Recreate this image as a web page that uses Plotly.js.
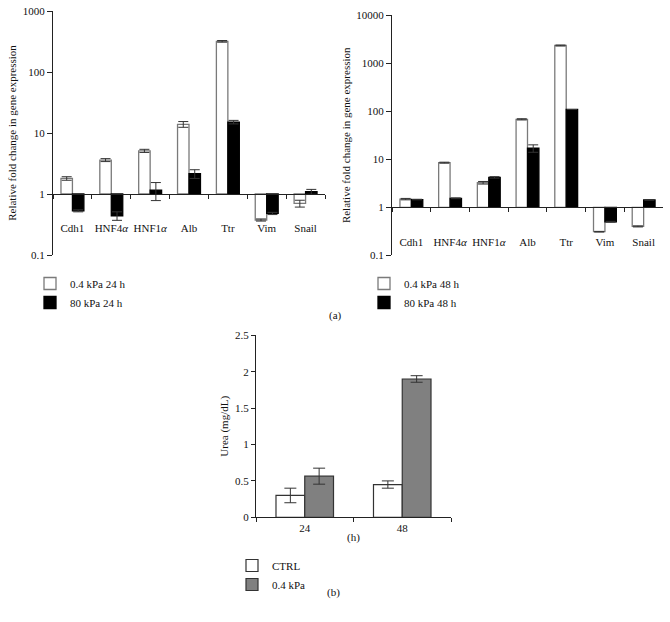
<!DOCTYPE html>
<html>
<head>
<meta charset="utf-8">
<script src="https://cdn.plot.ly/plotly-3.0.1.min.js"></script>
<style>html,body{margin:0;padding:0;background:#fff;}#chart{width:670px;height:622px;}</style>
</head>
<body>
<div id="chart"></div>
<script>
// ---- data ----
const genes = ["Cdh1", "HNF4<i>α</i>", "HNF1<i>α</i>", "Alb", "Ttr", "Vim", "Snail"];

const soft24 = [1.8, 3.6, 5.1, 13.9, 318, 0.375, 0.70];
const soft24Err = [0.12, 0.2, 0.3, 1.5, 10, 0.015, 0.09];
const stiff24 = [0.53, 0.44, 1.16, 2.15, 15.1, 0.48, 1.09];
const stiff24Err = [0.02, 0.07, 0.38, 0.35, 1.0, 0.02, 0.1];

const soft48 = [1.48, 8.5, 3.25, 68, 2350, 0.31, 0.40];
const soft48Err = [0.05, 0.2, 0.2, 2, 50, 0.005, 0.01];
const stiff48 = [1.45, 1.54, 4.2, 17, 109, 0.50, 1.42];
const stiff48Err = [0.02, 0.03, 0.15, 3, 0, 0.01, 0.02];

const hours = ["24", "48"];
const ureaCtrl = [0.30, 0.45];
const ureaCtrlErr = [0.10, 0.05];
const ureaSoft = [0.565, 1.90];
const ureaSoftErr = [0.11, 0.045];

const foldTicks = [0.1, 1, 10, 100, 1000, 10000];
const foldTickText = ["0.1", "1", "10", "100", "1000", "10000"];
const ureaTicks = [0, 0.5, 1, 1.5, 2, 2.5];
const ureaTickText = ["0", "0.5", "1", "1.5", "2", "2.5"];

// ---- helpers ----
const FONT = "'Liberation Serif'";
function foldBar(name, vals, errs, xa, ya, fill, line, legend) {
  return {
    type: "bar", name: name, x: genes,
    base: vals.map(() => 1),
    y: vals.map(v => v - 1),
    xaxis: xa, yaxis: ya, legend: legend,
    marker: {color: fill, line: {color: line, width: 1.3}},
    error_y: {type: "data", array: errs, visible: true, color: "#333", thickness: 1, width: 5},
    hoverinfo: "skip"
  };
}

const data = [
  foldBar("0.4 kPa 24 h", soft24, soft24Err, "x", "y", "#ffffff", "#7a7a7a", "legend"),
  foldBar("80 kPa 24 h", stiff24, stiff24Err, "x", "y", "#000000", "#000000", "legend"),
  foldBar("0.4 kPa 48 h", soft48, soft48Err, "x2", "y2", "#ffffff", "#7a7a7a", "legend2"),
  foldBar("80 kPa 48 h", stiff48, stiff48Err, "x2", "y2", "#000000", "#000000", "legend2"),
  {type: "bar", name: "CTRL", x: hours, y: ureaCtrl, xaxis: "x3", yaxis: "y3", legend: "legend3",
   marker: {color: "#ffffff", line: {color: "#333", width: 1.2}},
   error_y: {type: "data", array: ureaCtrlErr, visible: true, color: "#333", thickness: 1, width: 6}},
  {type: "bar", name: "0.4 kPa", x: hours, y: ureaSoft, xaxis: "x3", yaxis: "y3", legend: "legend3",
   marker: {color: "#808080", line: {color: "#333", width: 1.2}},
   error_y: {type: "data", array: ureaSoftErr, visible: true, color: "#333", thickness: 1, width: 6}}
];

const W = 670, H = 622;
const px = v => v / W;
const py = v => 1 - v / H;

const xCat = {
  type: "category", showline: true, linecolor: "#222", linewidth: 1,
  ticks: "outside", ticklen: 4, tickcolor: "#222", tickson: "boundaries",
  showgrid: false, zeroline: false, tickfont: {size: 11, color: "#111"},
  tickangle: 0, fixedrange: true
};
const yLog = {
  type: "log", showline: true, linecolor: "#222", linewidth: 1,
  ticks: "outside", ticklen: 5, tickcolor: "#222", showgrid: false, zeroline: false,
  tickmode: "array", tickvals: foldTicks, ticktext: foldTickText,
  tickfont: {size: 11, color: "#111"}, fixedrange: true
};

const layout = {
  width: W, height: H,
  margin: {l: 0, r: 0, t: 0, b: 0},
  paper_bgcolor: "#fff", plot_bgcolor: "rgba(0,0,0,0)",
  font: {family: FONT, size: 11, color: "#111"},
  barmode: "group", bargap: 0.41, bargroupgap: 0,
  xaxis: Object.assign({}, xCat, {domain: [px(53), px(325)], anchor: "free", position: py(194), ticklabelstandoff: 24}),
  yaxis: Object.assign({}, yLog, {domain: [py(255), py(11)], range: [-1, 3], anchor: "x",
    title: {text: "Relative fold change in gene expression", font: {size: 11}, standoff: 3}}),
  xaxis2: Object.assign({}, xCat, {domain: [px(392), px(663)], anchor: "free", position: py(207.3), ticklabelstandoff: 24}),
  yaxis2: Object.assign({}, yLog, {domain: [py(255.3), py(15.3)], range: [-1, 4], anchor: "x2",
    title: {text: "Relative fold change in gene expression", font: {size: 11}, standoff: 3}}),
  xaxis3: Object.assign({}, xCat, {domain: [px(256), px(451)], anchor: "y3"}),
  yaxis3: {domain: [py(517.3), py(335.3)], range: [0, 2.5], anchor: "x3",
    showline: true, linecolor: "#222", linewidth: 1, ticks: "outside", ticklen: 4, tickcolor: "#222",
    showgrid: false, zeroline: false, tickmode: "array", tickvals: ureaTicks, ticktext: ureaTickText,
    tickfont: {size: 11, color: "#111"}, fixedrange: true,
    title: {text: "Urea (mg/dL)", font: {size: 11}, standoff: 4}},
  legend: {x: px(30), y: py(269), xanchor: "left", yanchor: "top", bgcolor: "rgba(0,0,0,0)",
    font: {size: 11}, traceorder: "normal", itemclick: false},
  legend2: {x: px(364), y: py(269), xanchor: "left", yanchor: "top", bgcolor: "rgba(0,0,0,0)",
    font: {size: 11}, traceorder: "normal", itemclick: false},
  legend3: {x: px(232), y: py(551), xanchor: "left", yanchor: "top", bgcolor: "rgba(0,0,0,0)",
    font: {size: 11}, traceorder: "normal", itemclick: false},
  annotations: [
    {text: "(a)", x: px(335), y: py(315), xref: "paper", yref: "paper", showarrow: false, font: {size: 11}},
    {text: "(h)", x: px(353), y: py(546), xref: "paper", yref: "paper", showarrow: false, font: {size: 11}},
    {text: "(b)", x: px(333), y: py(601), xref: "paper", yref: "paper", showarrow: false, font: {size: 11}}
  ]
};

Plotly.newPlot("chart", data, layout, {displayModeBar: false, staticPlot: true});
</script>
</body>
</html>
